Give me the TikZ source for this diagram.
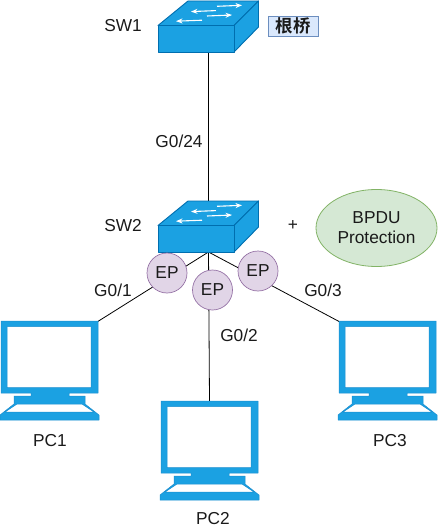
\documentclass[tikz,border=0pt]{standalone}
\usepackage{fontspec}
\setmainfont{Liberation Sans}
\newfontfamily\cjkfont{Noto Sans CJK SC}[BoldFont={* Bold}]
\usetikzlibrary{arrows.meta,shapes.geometric}
\definecolor{netfill}{HTML}{1BA1E2}
\definecolor{netline}{HTML}{006EAF}
\definecolor{netline2}{HTML}{1B8FD0}
\definecolor{epfill}{HTML}{E1D5E7}
\definecolor{epline}{HTML}{9673A6}
\definecolor{grfill}{HTML}{D5E8D4}
\definecolor{grline}{HTML}{82B366}
\definecolor{blfill}{HTML}{DAE8FC}
\definecolor{blline}{HTML}{6C8EBF}
\definecolor{txt}{HTML}{1A1A1A}
\tikzset{
  lbl/.style={text=txt,inner sep=0pt,font=\fontsize{17.3}{19}\selectfont},
  epnode/.style={circle,draw=epline,fill=epfill,line width=0.7pt,minimum size=40pt,inner sep=0pt,text=txt,font=\fontsize{17.3}{19}\selectfont},
  anchorbox/.style={inner sep=0pt,minimum size=0pt},
  link/.style={draw=black,line width=0.8pt},
  face/.style={fill=netfill,draw=netline,line width=0.9pt,line join=round},
  flow/.style={draw=white,line width=1.1pt,-{Stealth[length=6.5pt,width=5pt]}},
  switchicon/.pic={
    \path[face] (158,25.5) -- (188,1) -- (258.5,1) -- (234,25.5) -- cycle;
    \path[face] (234,25.5) -- (258.5,1) -- (258.5,27) -- (234,52) -- cycle;
    \path[face] (158,25.5) rectangle (234,52);
    \draw[flow] (217,6.3) -- (242,5.3);
    \draw[flow] (216,10.6) -- (191,11.6);
    \draw[flow] (207,16) -- (232,15);
    \draw[flow] (202,20.2) -- (176,21.2);
  },
  pcicon/.pic={
    \path[fill=netfill,draw=netline2,line width=0.5pt,even odd rule,line join=round]
      (1,321) -- (98,321) -- (98,393) -- (69,393) -- (69,396) -- (85,396) -- (85,404) -- (99,415) -- (99,420) -- (0,420) -- (0,415) -- (14,404) -- (14,396) -- (31,396) -- (31,393) -- (1,393) -- cycle
      (7,326.5) rectangle (91,387.5)
      (17,404) -- (82,404) -- (94,412) -- (5,412) -- cycle;
  }
}
\begin{document}
\begin{tikzpicture}[x=1pt,y=-1pt]
\useasboundingbox (0,0) rectangle (437,532);
\node[anchorbox] (sw1) at (208.5,52) {};
\node[anchorbox] (sw2top) at (208.5,201) {};
\node[anchorbox] (sw2) at (208.5,252) {};
\node[anchorbox] (pc1) at (97,322) {};
\node[anchorbox] (pc2) at (209.5,401) {};
\node[anchorbox] (pc3) at (340,322) {};
\draw[link] (sw1) -- (sw2top);
\draw[link] (sw2) -- (pc1);
\draw[link] (sw2) -- (pc2);
\draw[link] (sw2) -- (pc3);
\pic at (0,0) {switchicon};
\pic at (0,200) {switchicon};
\pic at (0,0) {pcicon};
\pic at (160,80) {pcicon};
\pic at (338,0) {pcicon};
\node[epnode] (ep1) at (167,273) {EP};
\node[epnode] (ep2) at (212.5,290) {EP};
\node[epnode] (ep3) at (258,271) {EP};
\node[lbl] (l1) at (123,26) {SW1};
\node[lbl] (l2) at (179,141) {G0/24};
\node[lbl] (l3) at (123,226) {SW2};
\node[lbl] (l4) at (293,226) {+};
\node[lbl] (l5) at (113,290) {G0/1};
\node[lbl] (l6) at (239,335) {G0/2};
\node[lbl] (l7) at (323,290) {G0/3};
\node[lbl] (l8) at (50,441) {PC1};
\node[lbl] (l9) at (213,519) {PC2};
\node[lbl] (l10) at (390,441) {PC3};
\node[ellipse,draw=grline,fill=grfill,line width=0.8pt,minimum width=121pt,minimum height=77pt,inner sep=0pt,align=center,text=txt,font=\fontsize{17.3}{20}\selectfont] (bp) at (376.5,228) {BPDU\\Protection};
\node[draw=blline,fill=blfill,line width=0.8pt,minimum width=50pt,minimum height=20pt,inner sep=0pt,text=txt,font=\cjkfont\bfseries\fontsize{17.5}{19}\selectfont] (root) at (293,26) {根桥};
\end{tikzpicture}
\end{document}
